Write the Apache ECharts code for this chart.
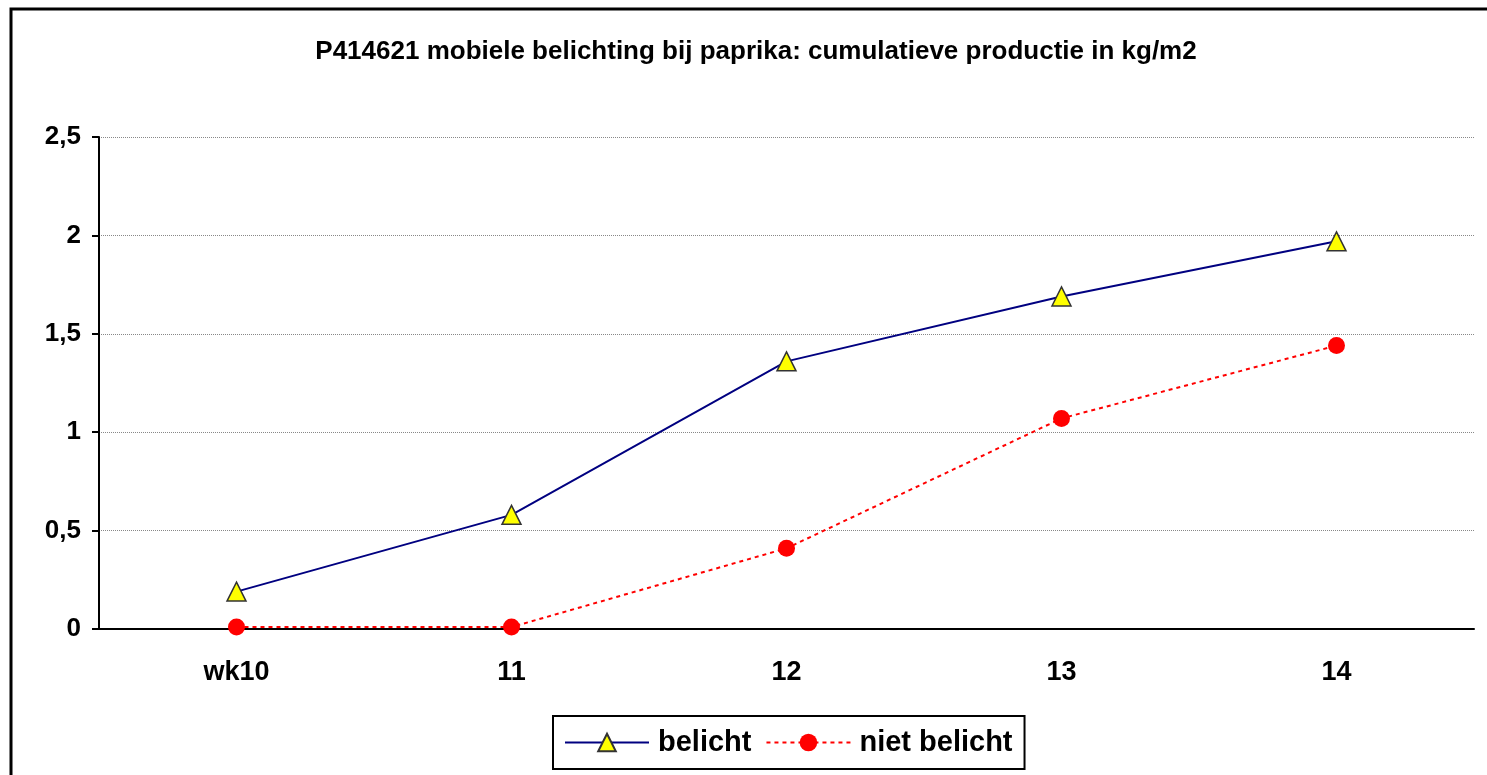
<!DOCTYPE html>
<html>
<head>
<meta charset="utf-8">
<script src="https://cdn.jsdelivr.net/npm/echarts@6/dist/echarts.min.js"></script>
<style>
  html, body { margin: 0; padding: 0; background: #fff; }
  #chart { width: 1487px; height: 775px; }
</style>
</head>
<body>
<div id="chart"></div>
<script>
// weeks on the x axis
const weeks = ['wk10', '11', '12', '13', '14'];
// cumulative production kg/m2
const belicht = [0.19, 0.58, 1.36, 1.69, 1.97];
const nietBelicht = [0.01, 0.01, 0.41, 1.07, 1.44];

const chart = echarts.init(document.getElementById('chart'));
const font = 'Liberation Sans, Arial, sans-serif';

const option = {
    animation: false,
    backgroundColor: '#fff',
    title: {
        text: 'P414621 mobiele belichting bij paprika: cumulatieve productie in kg/m2',
        left: 751, top: 34, textAlign: 'center',
        textStyle: { fontFamily: font, fontWeight: 'bold', fontSize: 26, color: '#000' }
    },
    graphic: [{
        type: 'rect',
        shape: { x: 11, y: 9, width: 2000, height: 2000 },
        style: { fill: 'none', stroke: '#000', lineWidth: 3 },
        silent: true
    }],
    legend: {
        bottom: 6, left: 553,
        itemWidth: 84, itemHeight: 22, itemGap: 14,
        padding: [12, 12, 12, 11],
        borderColor: '#000', borderWidth: 2,
        textStyle: { fontFamily: font, fontWeight: 'bold', fontSize: 29, color: '#000', padding: [0, 0, 0, 4] },
        data: ['belicht', 'niet belicht']
    },
    grid: { left: 99, right: 13, top: 137, bottom: 146 },
    xAxis: {
        type: 'category',
        data: weeks,
        boundaryGap: true,
        axisLine: { lineStyle: { color: '#000', width: 2 } },
        axisTick: { length: 8, lineStyle: { color: '#000', width: 2 } },
        axisLabel: { margin: 30, fontFamily: font, fontWeight: 'bold', fontSize: 27, color: '#000' }
    },
    yAxis: {
        type: 'value',
        min: 0, max: 2.5, interval: 0.5,
        axisLine: { show: true, lineStyle: { color: '#000', width: 2 } },
        axisTick: { show: true, length: 7, lineStyle: { color: '#000', width: 2 } },
        splitLine: { lineStyle: { color: '#888', type: [1, 1], width: 1 } },
        axisLabel: {
            margin: 18, fontFamily: font, fontWeight: 'bold', fontSize: 26, color: '#000',
            formatter: v => String(v).replace('.', ',')
        }
    },
    series: [
        {
            name: 'belicht', type: 'line', data: belicht,
            symbol: 'triangle', symbolSize: 19,
            itemStyle: { color: '#ffff00', borderColor: '#333', borderWidth: 1.5 },
            lineStyle: { color: '#000080', width: 2 }
        },
        {
            name: 'niet belicht', type: 'line', data: nietBelicht,
            symbol: 'circle', symbolSize: 17,
            itemStyle: { color: '#ff0000', borderColor: '#ff0000', borderWidth: 0 },
            lineStyle: { color: '#ff0000', width: 2, type: [4, 4] }
        }
    ]
};

chart.setOption(option);
</script>
</body>
</html>
